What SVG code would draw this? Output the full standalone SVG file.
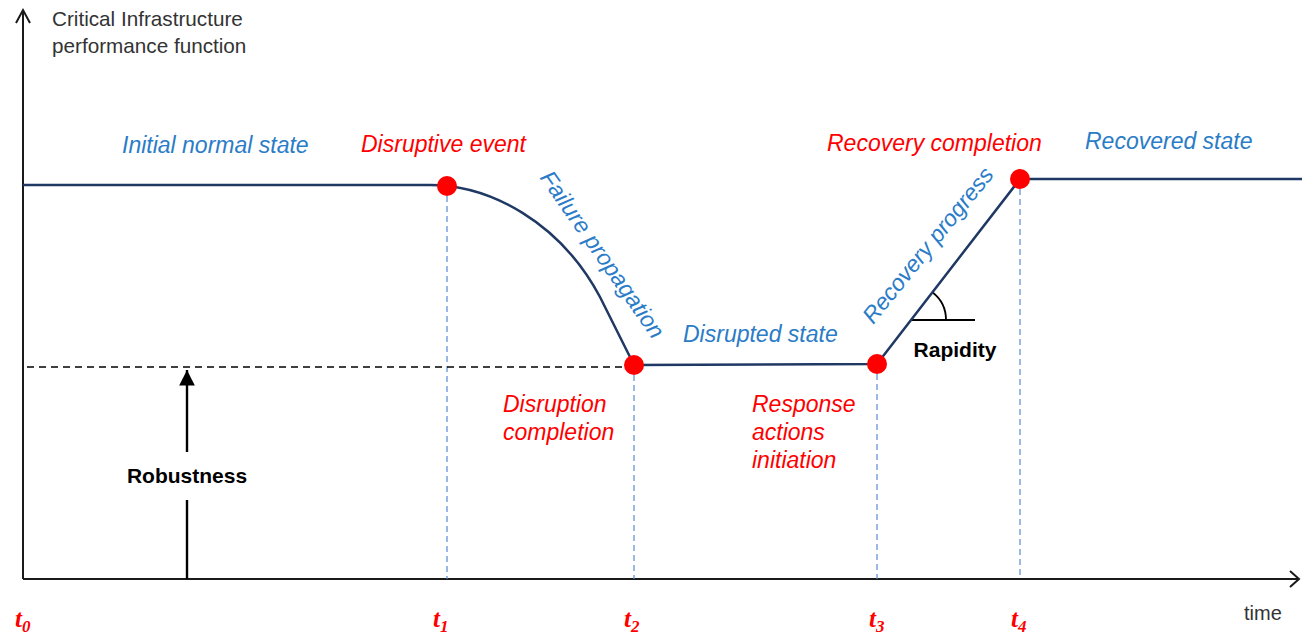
<svg xmlns="http://www.w3.org/2000/svg" width="1302" height="635" viewBox="0 0 1302 635">
  <style>
    .lbl { font-family: "Liberation Sans", Arial, sans-serif; }
    .blue { fill: #2a7cc7; font-style: italic; font-size: 23px; }
    .red { fill: #ff0000; font-style: italic; font-size: 23px; }
    .axis-title { fill: #333333; font-size: 20.7px; }
    .time-title { fill: #333333; font-size: 20px; }
    .bold { fill: #000000; font-weight: bold; font-size: 21px; }
    .tick { font-family: "Liberation Serif", "Times New Roman", serif; font-style: italic; fill: #ff0000; font-size: 25px; font-weight: bold; }
    .tick tspan { font-size: 17px; }
    .axis { stroke: #1a1a1a; stroke-width: 2; fill: none; }
    .vguide { stroke: #5b8bd6; stroke-width: 1.2; stroke-dasharray: 6 4; fill: none; }
    .hguide { stroke: #000000; stroke-width: 1.4; stroke-dasharray: 7 5; fill: none; }
    .curve { stroke: #1f3864; stroke-width: 2.5; fill: none; stroke-linejoin: round; }
    .dot { fill: #ff0000; }
  </style>
  <defs>
    <marker id="solidHead" viewBox="0 0 10 10" refX="10" refY="5" markerWidth="6.5" markerHeight="6.5" orient="auto" markerUnits="strokeWidth">
      <path d="M0,0 L10,5 L0,10 Z" fill="#000000"/>
    </marker>
  </defs>

  <rect width="1302" height="635" fill="#ffffff"/>

  <!-- axes -->
  <g id="axes">
    <path class="axis" d="M23,579 L23,10 M16,23 L23,10 L30,23"/>
    <path class="axis" d="M23,579 L1299,579 M1290,571 L1299,579 L1290,587"/>
    <text class="lbl axis-title" x="52" y="26">Critical Infrastructure</text>
    <text class="lbl axis-title" x="52" y="53">performance function</text>
    <text class="lbl time-title" x="1244" y="620">time</text>
  </g>

  <!-- guide lines -->
  <g id="connectors">
    <path class="vguide" d="M447,196 L447,579"/>
    <path class="vguide" d="M634,375 L634,579"/>
    <path class="vguide" d="M877,374 L877,579"/>
    <path class="vguide" d="M1020,189 L1020,579"/>
    <path class="hguide" d="M27,367 L624,367"/>
    <!-- robustness arrow, interrupted by its label -->
    <path stroke="#000" stroke-width="2.4" fill="none" d="M187,579 L187,500"/>
    <path stroke="#000" stroke-width="2.4" fill="none" d="M187,452 L187,370" marker-end="url(#solidHead)"/>
    <!-- rapidity angle -->
    <path stroke="#000" stroke-width="1.8" fill="none" d="M911,320 L975,320 M932.4,292.3 A35,35 0 0 1 946,320"/>
  </g>

  <!-- performance curve -->
  <g id="performance-curve">
    <path class="curve" d="M23,185 L430,185 C490,185 560,222 600,297 L634,365 L877,364 L1020,179 L1302,179"/>
  </g>

  <!-- event points -->
  <g id="t1-point"><circle class="dot" cx="447" cy="186" r="10"/></g>
  <g id="t2-point"><circle class="dot" cx="634" cy="365" r="10"/></g>
  <g id="t3-point"><circle class="dot" cx="877" cy="364" r="10"/></g>
  <g id="t4-point"><circle class="dot" cx="1020" cy="179" r="10"/></g>

  <!-- phase labels -->
  <g id="state-labels">
    <text class="lbl blue" x="122" y="153">Initial normal state</text>
    <text class="lbl blue" x="596" y="259" text-anchor="middle" transform="rotate(55 596 259)">Failure propagation</text>
    <text class="lbl blue" x="683" y="342">Disrupted state</text>
    <text class="lbl blue" x="934" y="250" text-anchor="middle" transform="rotate(-51 934 250)">Recovery progress</text>
    <text class="lbl blue" x="1085" y="149">Recovered state</text>
  </g>

  <g id="event-labels">
    <text class="lbl red" x="361" y="152">Disruptive event</text>
    <text class="lbl red" x="503" y="412">Disruption</text>
    <text class="lbl red" x="503" y="440">completion</text>
    <text class="lbl red" x="752" y="412">Response</text>
    <text class="lbl red" x="752" y="440">actions</text>
    <text class="lbl red" x="752" y="468">initiation</text>
    <text class="lbl red" x="827" y="151">Recovery completion</text>
  </g>

  <g id="measure-labels">
    <text class="lbl bold" x="187" y="483" text-anchor="middle">Robustness</text>
    <text class="lbl bold" x="955" y="357" text-anchor="middle">Rapidity</text>
  </g>

  <!-- time instants -->
  <g id="time-ticks">
    <text class="tick" x="15" y="627">t<tspan dy="5">0</tspan></text>
    <text class="tick" x="433" y="627">t<tspan dy="5">1</tspan></text>
    <text class="tick" x="624" y="627">t<tspan dy="5">2</tspan></text>
    <text class="tick" x="869" y="627">t<tspan dy="5">3</tspan></text>
    <text class="tick" x="1011" y="627">t<tspan dy="5">4</tspan></text>
  </g>
</svg>
